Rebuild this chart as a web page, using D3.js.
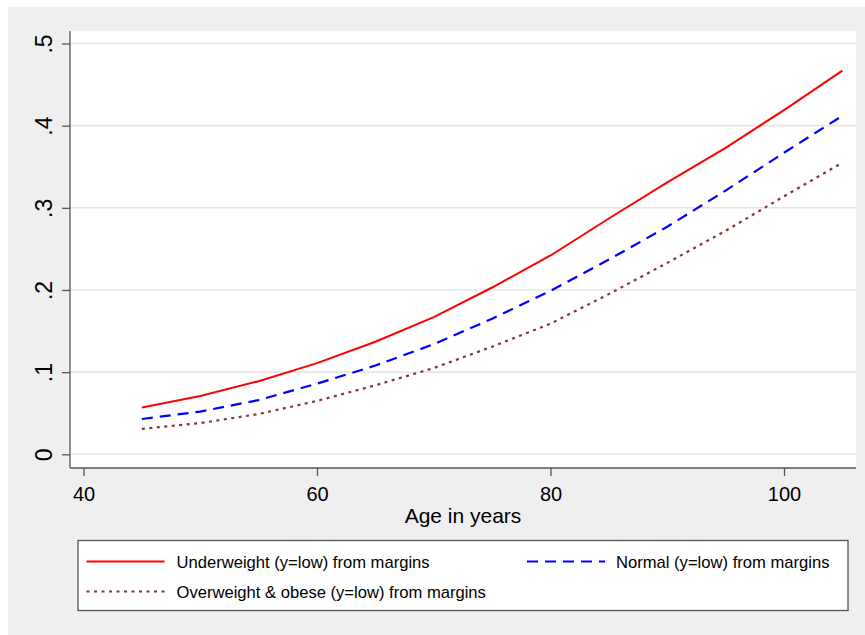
<!DOCTYPE html>
<html>
<head>
<meta charset="utf-8">
<script src="https://cdn.jsdelivr.net/npm/d3@7"></script>
<style>
  html, body { margin: 0; padding: 0; background: #ffffff; }
  svg { display: block; font-family: Arial, "Liberation Sans", sans-serif; }
</style>
</head>
<body>
<svg id="chart" width="865" height="635"></svg>
<script>
const ages = [45, 50, 55, 60, 65, 70, 75, 80, 85, 90, 95, 100, 105];
const underweight = [0.057, 0.071, 0.089, 0.111, 0.137, 0.167, 0.203, 0.242, 0.287, 0.331, 0.373, 0.419, 0.467];
const normal = [0.043, 0.052, 0.066, 0.086, 0.108, 0.134, 0.165, 0.199, 0.237, 0.277, 0.321, 0.367, 0.412];
const overweight = [0.031, 0.038, 0.049, 0.065, 0.084, 0.105, 0.131, 0.159, 0.195, 0.233, 0.272, 0.314, 0.355];
const xTicks = [40, 60, 80, 100];
const yTicks = [0, 0.1, 0.2, 0.3, 0.4, 0.5];
const yTickLabels = ["0", ".1", ".2", ".3", ".4", ".5"];
const seriesNames = [
  "Underweight (y=low) from margins",
  "Normal (y=low) from margins",
  "Overweight & obese (y=low) from margins"
];
const xTitle = "Age in years";

const svg = d3.select("#chart");

// outer panel
svg.append("rect").attr("x", 8).attr("y", 7).attr("width", 857).attr("height", 628).attr("fill", "#efefef");

const plot = { left: 70, right: 856, top: 31, bottom: 468 };
svg.append("rect").attr("x", plot.left).attr("y", plot.top)
  .attr("width", plot.right - plot.left).attr("height", plot.bottom - plot.top).attr("fill", "#ffffff");

const x = d3.scaleLinear().domain([40, 100]).range([83.5, 784]);
const y = d3.scaleLinear().domain([0, 0.5]).range([454.3, 43.5]);

// gridlines
svg.append("g").selectAll("line").data(yTicks).join("line")
  .attr("x1", plot.left).attr("x2", plot.right)
  .attr("y1", d => y(d)).attr("y2", d => y(d))
  .attr("stroke", "#e6e6e6").attr("stroke-width", 1.6);

// y axis
const yAxis = d3.axisLeft(y).tickValues(yTicks).tickSize(8).tickFormat((d, i) => yTickLabels[i]);
const gy = svg.append("g").attr("transform", `translate(${plot.left},0)`).call(yAxis);
gy.select(".domain").attr("d", `M0,${plot.top}V${plot.bottom}`).attr("stroke", "#555").attr("stroke-width", 1.3);
gy.selectAll(".tick line").attr("stroke", "#555").attr("stroke-width", 1.3);
gy.selectAll(".tick text")
  .attr("x", null).attr("dy", null)
  .attr("transform", "translate(-18.5,0) rotate(-90)")
  .attr("text-anchor", "middle")
  .attr("font-size", 23).attr("fill", "#000")
  .attr("font-family", "Arial, 'Liberation Sans', sans-serif");

// x axis
const xAxis = d3.axisBottom(x).tickValues(xTicks).tickSize(8).tickFormat(d3.format("d"));
const gx = svg.append("g").attr("transform", `translate(0,${plot.bottom})`).call(xAxis);
gx.select(".domain").attr("d", `M${plot.left},0H${plot.right}`).attr("stroke", "#555").attr("stroke-width", 1.3);
gx.selectAll(".tick line").attr("stroke", "#555").attr("stroke-width", 1.3);
gx.selectAll(".tick text")
  .attr("y", 32.5).attr("dy", null)
  .attr("font-size", 20).attr("fill", "#000")
  .attr("font-family", "Arial, 'Liberation Sans', sans-serif");

svg.append("text").attr("x", (plot.left + plot.right) / 2).attr("y", 522.5)
  .attr("text-anchor", "middle").attr("font-size", 21).attr("fill", "#000").text(xTitle);

// lines
const styles = [
  { color: "#ff0000", dash: null, width: 2 },
  { color: "#0000ff", dash: "11,7", width: 2.2 },
  { color: "#8b3333", dash: "3,4.5", width: 2.2 }
];
const seriesData = [underweight, normal, overweight];
const line = d3.line().x(d => x(d[0])).y(d => y(d[1]));
seriesData.forEach((vals, i) => {
  svg.append("path")
    .datum(ages.map((a, j) => [a, vals[j]]))
    .attr("d", line)
    .attr("fill", "none")
    .attr("stroke", styles[i].color)
    .attr("stroke-width", styles[i].width)
    .attr("stroke-dasharray", styles[i].dash);
});

// legend
svg.append("rect").attr("x", 78).attr("y", 540.5).attr("width", 770).attr("height", 70)
  .attr("fill", "#fff").attr("stroke", "#555").attr("stroke-width", 1.3);
const legendPos = [
  { x1: 86.5, x2: 164.5, tx: 176.5, y: 561.5 },
  { x1: 527, x2: 605, tx: 616, y: 561.5 },
  { x1: 86.5, x2: 164.5, tx: 176.5, y: 591.5 }
];
seriesNames.forEach((name, i) => {
  const p = legendPos[i];
  svg.append("line").attr("x1", p.x1).attr("x2", p.x2).attr("y1", p.y).attr("y2", p.y)
    .attr("stroke", styles[i].color).attr("stroke-width", styles[i].width)
    .attr("stroke-dasharray", styles[i].dash);
  svg.append("text").attr("x", p.tx).attr("y", p.y + 6)
    .attr("font-size", 16.6).attr("fill", "#000").text(name);
});
</script>
</body>
</html>
